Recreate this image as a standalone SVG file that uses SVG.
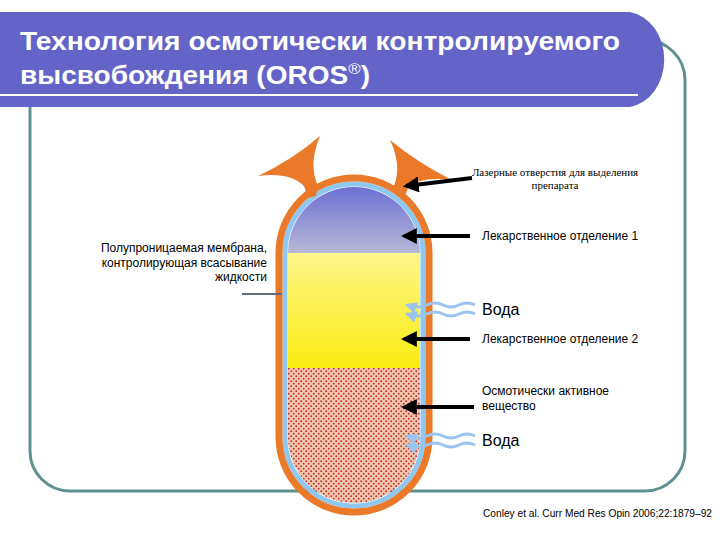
<svg xmlns="http://www.w3.org/2000/svg" width="720" height="540" viewBox="0 0 720 540">
<defs>
<linearGradient id="gb" x1="0" y1="0" x2="0" y2="1"><stop offset="0" stop-color="#5a5ed0"/><stop offset="1" stop-color="#b8b8d8"/></linearGradient>
<linearGradient id="gy" x1="0" y1="0" x2="0" y2="1"><stop offset="0" stop-color="#fdf68a"/><stop offset="1" stop-color="#f8ec10"/></linearGradient>
<pattern id="dots" width="5" height="5" patternUnits="userSpaceOnUse"><rect width="5" height="5" fill="#f0c8a8"/><circle cx="1.2" cy="1.2" r="0.9" fill="#c8203a"/><circle cx="3.7" cy="3.7" r="0.9" fill="#c8203a"/></pattern>
<clipPath id="cap"><path d="M288,253 A66,66 0 0 1 420,253 L420,437 A66,66 0 0 1 288,437 Z"/></clipPath>
<marker id="ah" viewBox="0 0 10 10" refX="8" refY="5" markerWidth="4" markerHeight="4" orient="auto"><path d="M0,0 L10,5 L0,10 Z" fill="#000"/></marker>
<marker id="ab" viewBox="0 0 10 10" refX="8" refY="5" markerWidth="4" markerHeight="4" orient="auto"><path d="M0,0 L10,5 L0,10 Z" fill="#9cc4f0"/></marker>
</defs>
<style>
.lbl{font-family:"Liberation Sans",Arial,sans-serif;font-size:12px;fill:#000}
.ser{font-family:"Liberation Serif","Times New Roman",serif;font-size:11px;fill:#000}
.big{font-family:"Liberation Sans",Arial,sans-serif;font-size:16px;fill:#000}
.arr{stroke:#000;stroke-width:4;marker-end:url(#ah)}
.wav{fill:none;stroke:#9cc4f0;stroke-width:3}
.ttl{font-family:"Liberation Sans",Arial,sans-serif;font-size:25px;font-weight:bold;fill:#fff}
</style>
<rect width="720" height="540" fill="#fff"/>
<rect id="frame" x="30" y="40" width="655" height="451" rx="40" fill="none" stroke="#5f9090" stroke-width="3"/>
<g id="header">
<path d="M0,12 L630,12 A40,48 0 0 1 630,107 L0,107 Z" fill="#6464c8"/>
<line x1="0" y1="95" x2="638" y2="95" stroke="#fff" stroke-width="2"/>
<text class="ttl" x="20" y="50" textLength="600" lengthAdjust="spacingAndGlyphs">Технология осмотически контролируемого</text>
<text class="ttl" x="20" y="84" textLength="350" lengthAdjust="spacingAndGlyphs">высвобождения (OROS<tspan font-size="15" font-weight="normal" dy="-10">®</tspan><tspan dy="10">)</tspan></text>
</g>
<g id="capsule">
<g clip-path="url(#cap)">
<rect x="280" y="170" width="150" height="83" fill="url(#gb)"/>
<rect x="280" y="253" width="150" height="115" fill="url(#gy)"/>
<rect x="280" y="368" width="150" height="150" fill="url(#dots)"/>
</g>
<path d="M285,253 A69,69 0 0 1 423,253 L423,437 A69,69 0 0 1 285,437 Z" fill="none" stroke="#8ec8f0" stroke-width="5"/>
<path d="M279,253 A75,75 0 0 1 429,253 L429,437 A75,75 0 0 1 279,437 Z" fill="none" stroke="#ea7a2a" stroke-width="7"/>
<path d="M308,198 L304,186 Q290,172 258,176 Q292,160 320,136 Q308,165 318,186 L316,196 Z" fill="#ea7a2a"/>
<path d="M397,196 L394,186 Q402,165 390,140 Q418,163 452,180 Q420,176 408,188 L404,198 Z" fill="#ea7a2a"/>
</g>
<g id="connectors">
<line class="arr" x1="472" y1="178" x2="406" y2="186"/>
<line class="arr" x1="470" y1="236" x2="404" y2="236"/>
<line class="arr" x1="470" y1="339" x2="404" y2="339"/>
<line class="arr" x1="474" y1="407" x2="404" y2="407"/>
<line x1="242" y1="294" x2="282" y2="294" stroke="#607080" stroke-width="2"/>
<path class="wav" d="M475,305 q-8,-4 -16,0 t-16,0 t-16,0 t-20,0" marker-end="url(#ab)"/>
<path class="wav" d="M475,314 q-8,-4 -16,0 t-16,0 t-16,0 t-20,0" marker-end="url(#ab)"/>
<path class="wav" d="M475,436 q-8,-4 -16,0 t-16,0 t-16,0 t-20,0" marker-end="url(#ab)"/>
<path class="wav" d="M475,445 q-8,-4 -16,0 t-16,0 t-16,0 t-20,0" marker-end="url(#ab)"/>
</g>
<g id="labels">
<text class="ser" x="555" y="176" text-anchor="middle">Лазерные отверстия для выделения</text>
<text class="ser" x="555" y="189" text-anchor="middle">препарата</text>
<text class="lbl" x="482" y="240">Лекарственное отделение 1</text>
<text class="big" x="482" y="315">Вода</text>
<text class="lbl" x="482" y="343">Лекарственное отделение 2</text>
<text class="lbl" x="482" y="395">Осмотически активное</text>
<text class="lbl" x="482" y="410">вещество</text>
<text class="big" x="482" y="446">Вода</text>
<text class="lbl" x="267" y="252" text-anchor="end">Полупроницаемая мембрана,</text>
<text class="lbl" x="267" y="267" text-anchor="end">контролирующая всасывание</text>
<text class="lbl" x="267" y="281" text-anchor="end">жидкости</text>
<text x="483" y="517" font-family="Liberation Sans,Arial,sans-serif" font-size="10" fill="#000" textLength="229" lengthAdjust="spacingAndGlyphs">Conley et al. Curr Med Res Opin 2006;22:1879–92</text>
</g>
</svg>
